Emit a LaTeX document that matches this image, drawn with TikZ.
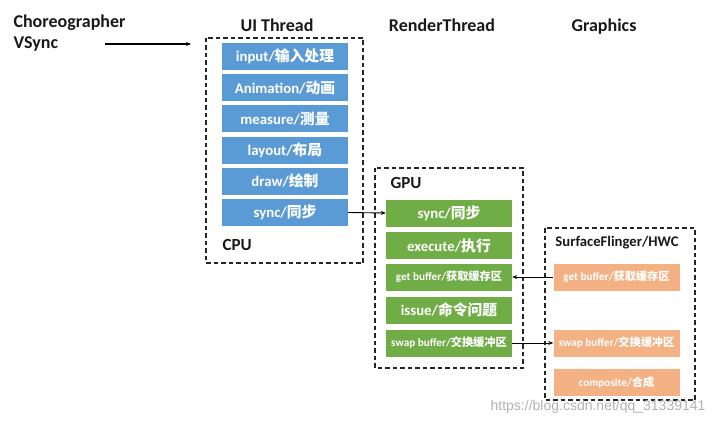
\documentclass[tikz,border=0pt]{standalone}
\usepackage{fontspec}
\setmainfont{Carlito}
\newfontfamily\cjk{Noto Sans CJK SC}
\newfontfamily\wmfont{Liberation Sans}
\newcommand\zh[1]{{\cjk\bfseries #1}}
\usetikzlibrary{arrows.meta}
\definecolor{ublue}{HTML}{5B9BD5}
\definecolor{ugreen}{HTML}{70AD47}
\definecolor{uorange}{HTML}{F4B183}
\tikzset{
  stepbox/.style={minimum width=126pt, minimum height=27pt, inner sep=0pt, text=white,
    font=\bfseries\fontsize{14.8}{14.8}\selectfont},
  smallbox/.style={stepbox, font=\bfseries\fontsize{11.2}{11.2}\selectfont},
  bluebox/.style={stepbox, fill=ublue},
  greenbox/.style={stepbox, fill=ugreen},
  orangebox/.style={stepbox, fill=uorange},
  frame/.style={draw=black!85, line width=1.3pt, dash pattern=on 4.5pt off 3pt},
  title/.style={font=\bfseries\fontsize{18}{18}\selectfont, text=black!90},
  conn/.style={line width=0.9pt, -{Stealth[length=5pt,width=4pt]}}
}
\begin{document}
\begin{tikzpicture}[x=1pt,y=-1pt]
\useasboundingbox (0,0) rectangle (715,425);
% titles
\node[title, anchor=west] (chor) at (10,23) {Choreographer};
\node[title, anchor=west] (vsync) at (10,44) {VSync};
\node[title] (uit) at (277,25) {UI Thread};
\node[title] (rt) at (442,25) {RenderThread};
\node[title] (gfx) at (604,27) {Graphics};
% frames
\draw[frame] (206,38) rectangle (363,263);
\draw[frame] (375,168) rectangle (523,368);
\draw[frame] (545,228) rectangle (695,400);
\node[title, anchor=west, font=\bfseries\fontsize{17}{17}\selectfont] (cpu) at (219,245) {CPU};
\node[title, anchor=west, font=\bfseries\fontsize{17}{17}\selectfont] (gpu) at (387,183) {GPU};
\node[title, font=\bfseries\fontsize{14.7}{14.7}\selectfont] (sf) at (617,243) {SurfaceFlinger/HWC};
% UI thread boxes
\node[bluebox] (b1) at (285,56.5) {input/\zh{输入处理}};
\node[bluebox] (b2) at (285,87.7) {Animation/\zh{动画}};
\node[bluebox] (b3) at (285,118.9) {measure/\zh{测量}};
\node[bluebox] (b4) at (285,150.1) {layout/\zh{布局}};
\node[bluebox] (b5) at (285,181.3) {draw/\zh{绘制}};
\node[bluebox] (b6) at (285,212.5) {sync/\zh{同步}};
% GPU boxes
\node[greenbox] (g1) at (449,213) {sync/\zh{同步}};
\node[greenbox] (g2) at (449,245.5) {execute/\zh{执行}};
\node[greenbox, smallbox, fill=ugreen] (g3) at (449,277) {get buffer/\zh{获取缓存区}};
\node[greenbox] (g4) at (449,310) {issue/\zh{命令问题}};
\node[greenbox, smallbox, fill=ugreen] (g5) at (449,343) {swap buffer/\zh{交换缓冲区}};
% SF boxes
\node[orangebox, smallbox, fill=uorange] (o1) at (616.5,277) {get buffer/\zh{获取缓存区}};
\node[orangebox, smallbox, fill=uorange] (o2) at (616.5,343) {swap buffer/\zh{交换缓冲区}};
\node[orangebox, smallbox, fill=uorange] (o3) at (616.5,382.5) {composite/\zh{合成}};
% connectors
\coordinate (vs1) at (105,44);
\coordinate (vs2) at (191,44);
\draw[conn, line width=1.5pt] (vs1) -- (vs2);
\draw[conn] (b6.east) -- (g1.west);
\draw[conn] (o1.west) -- (g3.east);
\draw[conn] (g5.east) -- (o2.west);
% watermark
\node[anchor=east, text=black!30, font=\wmfont\fontsize{14}{14}\selectfont] (wm) at (709,407) {https://blog.csdn.net/qq\_31339141};
\end{tikzpicture}
\end{document}
